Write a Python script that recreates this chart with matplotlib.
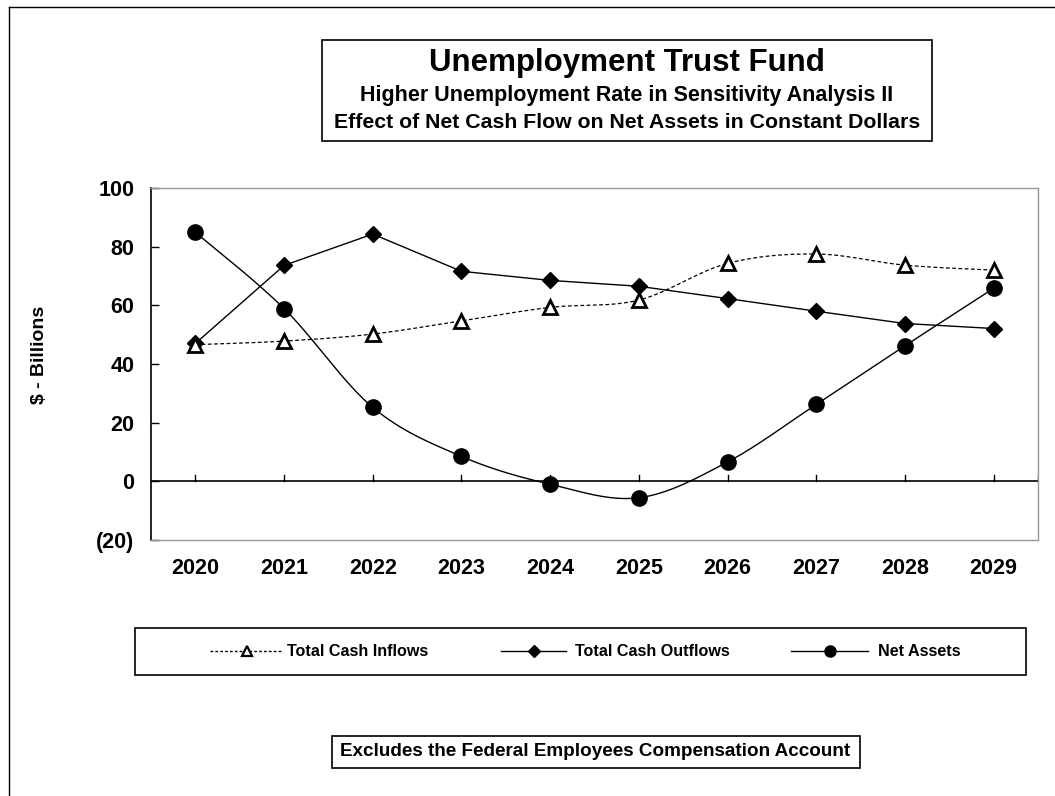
import numpy as np
import matplotlib
matplotlib.use("Agg")
import matplotlib.pyplot as plt
from matplotlib.patches import Rectangle
from matplotlib.lines import Line2D

years = ["2020", "2021", "2022", "2023", "2024", "2025", "2026", "2027", "2028", "2029"]
inflows = [46.6, 47.8, 50.2, 54.7, 59.3, 61.8, 74.3, 77.5, 73.7, 72.0]
outflows = [47.0, 73.6, 84.3, 71.6, 68.5, 66.5, 62.3, 58.0, 53.8, 52.1]
net_assets = [84.9, 58.9, 25.2, 8.5, -1.0, -5.6, 6.6, 26.2, 46.2, 65.8]
ytick_vals = [-20, 0, 20, 40, 60, 80, 100]
ytick_labels = ["(20)", "0", "20", "40", "60", "80", "100"]
series_labels = ["Total Cash Inflows", "Total Cash Outflows", "Net Assets"]

plt.rcParams["font.family"] = ["Liberation Sans", "DejaVu Sans"]
plt.rcParams["font.weight"] = "bold"


def smooth(xs, ys, n=30):
    xs = np.asarray(xs, float)
    ys = np.asarray(ys, float)
    P = np.column_stack([xs, ys])
    Pe = np.vstack([P[0], P, P[-1]])
    out = []
    t = np.linspace(0, 1, n)[:, None]
    for i in range(len(P) - 1):
        p0 = Pe[i + 1]
        p3 = Pe[i + 2]
        c1 = p0 + (Pe[i + 2] - Pe[i]) / 6.0
        c2 = p3 - (Pe[i + 3] - Pe[i + 1]) / 6.0
        seg = ((1 - t) ** 3) * p0 + 3 * ((1 - t) ** 2) * t * c1 + 3 * (1 - t) * t ** 2 * c2 + t ** 3 * p3
        out.append(seg if i == 0 else seg[1:])
    out = np.vstack(out)
    return out[:, 0], out[:, 1]


fig = plt.figure(figsize=(10.55, 7.96), dpi=100)
W, H = 1055, 796


def fx(px):
    return px / W


def fy(py):
    return 1 - py / H


ax = fig.add_axes([fx(151), fy(540), fx(1038) - fx(151), fy(188) - fy(540)])
x = np.arange(len(years))

sx, sy = smooth(x, inflows)
ax.plot(sx, sy, color="black", lw=0.9, ls=(0, (3, 2)), zorder=3)
ax.plot(x, inflows, ls="none", marker="^", ms=10, mfc="white", mec="black", mew=2, zorder=5)

ax.plot(x, outflows, color="black", lw=1.0, marker="D", ms=8.5, mfc="black", mec="black", zorder=4)

sx, sy = smooth(x, net_assets)
ax.plot(sx, sy, color="black", lw=1.0, zorder=3)
ax.plot(x, net_assets, ls="none", marker="o", ms=11, mfc="black", mec="black", zorder=6)

ax.set_xlim(-0.5, len(years) - 0.5)
ax.set_ylim(-20, 100)

for s in ["top", "right", "bottom"]:
    ax.spines[s].set_color("#999999")
    ax.spines[s].set_linewidth(1.0)
ax.spines["left"].set_color("black")
ax.spines["left"].set_linewidth(1.2)

ax.set_yticks(ytick_vals)
ax.set_yticklabels(ytick_labels, fontsize=15.5, fontweight="bold")
ax.tick_params(axis="y", direction="in", length=6, width=1, pad=12)

ax.axhline(0, color="black", lw=1.2, zorder=2)
ax.set_xticks([])
for xi, lab in zip(x, years):
    ax.plot([xi, xi], [0, 2.2], color="black", lw=1, zorder=2)
    ax.text(xi, -0.08, lab, transform=ax.get_xaxis_transform(), ha="center", va="center",
            fontsize=15.5, fontweight="bold")
ax.plot([len(years) - 0.5, len(years) - 0.5], [0, 2.2], color="black", lw=1, zorder=2)

fig.text(fx(40), fy(355), "$ - Billions", rotation=90, ha="center", va="center",
         fontsize=14, fontweight="bold")

# title box
fig.patches.append(Rectangle((fx(322), fy(141)), fx(932) - fx(322), fy(40) - fy(141),
                             transform=fig.transFigure, fill=False, ec="black", lw=1.2))
fig.text(fx(627), fy(63), "Unemployment Trust Fund", ha="center", va="center", fontsize=22.5, fontweight="bold")
fig.text(fx(627), fy(95), "Higher Unemployment Rate in Sensitivity Analysis II", ha="center", va="center",
         fontsize=15.5, fontweight="bold")
fig.text(fx(627), fy(122), "Effect of Net Cash Flow on Net Assets in Constant Dollars", ha="center", va="center",
         fontsize=15.3, fontweight="bold")

# legend (drawn manually)
fig.patches.append(Rectangle((fx(135), fy(675)), fx(1026) - fx(135), fy(628) - fy(675),
                             transform=fig.transFigure, fill=False, ec="black", lw=1.2))
ly = fy(651)
keys = [
    dict(x0=210, x1=283, ls=(0, (2, 1.5)), marker="^", ms=6.5, mfc="white", mew=1.6, tx=287),
    dict(x0=501, x1=566, ls="-", marker="D", ms=6, mfc="black", mew=1, tx=575),
    dict(x0=791, x1=868, ls="-", marker="o", ms=8, mfc="black", mew=1, tx=878),
]
for k, lab in zip(keys, series_labels):
    fig.add_artist(Line2D([fx(k["x0"]), fx(k["x1"])], [ly, ly], transform=fig.transFigure,
                          color="black", lw=1.0, ls=k["ls"]))
    fig.add_artist(Line2D([fx((k["x0"] + k["x1"]) / 2)], [ly], transform=fig.transFigure,
                          ls="none", marker=k["marker"], ms=k["ms"], mfc=k["mfc"], mec="black", mew=k["mew"]))
    fig.text(fx(k["tx"]), ly, lab, ha="left", va="center", fontsize=11.6, fontweight="bold")

# bottom note
fig.patches.append(Rectangle((fx(332), fy(768)), fx(860) - fx(332), fy(736) - fy(768),
                             transform=fig.transFigure, fill=False, ec="black", lw=1.2))
fig.text(fx(595), fy(752), "Excludes the Federal Employees Compensation Account", ha="center", va="center",
         fontsize=13.6, fontweight="bold")

# outer border
fig.add_artist(Line2D([fx(9), 1.0], [fy(7), fy(7)], transform=fig.transFigure, color="black", lw=1))
fig.add_artist(Line2D([fx(9), fx(9)], [fy(7), 0.0], transform=fig.transFigure, color="black", lw=1))

fig.savefig("out.png", dpi=100)
